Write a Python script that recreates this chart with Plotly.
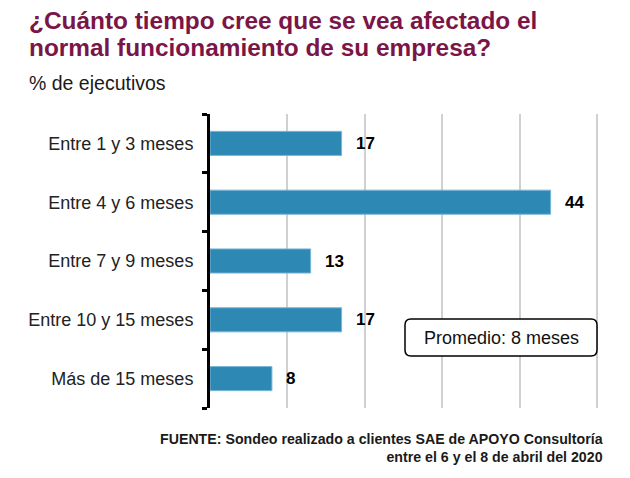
import plotly.graph_objects as go

categorias = ["Entre 1 y 3 meses", "Entre 4 y 6 meses", "Entre 7 y 9 meses",
              "Entre 10 y 15 meses", "Más de 15 meses"]
porcentajes = [17, 44, 13, 17, 8]
x_ticks = [0, 10, 20, 30, 40, 50]

titulo = ["¿Cuánto tiempo cree que se vea afectado el",
          "normal funcionamiento de su empresa?"]
subtitulo = "% de ejecutivos"
promedio = "Promedio: 8 meses"
fuente = ("FUENTE: Sondeo realizado a clientes SAE de APOYO Consultoría<br>"
          "entre el 6 y el 8 de abril del 2020")

FONT = "Liberation Sans, Arial, sans-serif"
W, H = 630, 478
M = dict(l=210, r=31, t=114, b=70)
pw = W - M["l"] - M["r"]
ph = H - M["t"] - M["b"]


def px(x):
    # page pixel -> paper x
    return (x - M["l"]) / pw


def py(y):
    # page pixel -> paper y
    return 1 - (y - M["t"]) / ph


fig = go.Figure(go.Bar(
    x=porcentajes,
    y=categorias,
    orientation="h",
    marker=dict(color="#2E88B4", line=dict(color="#7ab6d6", width=1)),
    width=0.41,
    hoverinfo="skip",
))

# value labels next to each bar
for cat, val in zip(categorias, porcentajes):
    fig.add_annotation(x=val, y=cat, text=f"<b>{val}</b>", showarrow=False,
                       xanchor="left", xshift=12,
                       font=dict(size=17, color="black", family=FONT))

# rounded callout box
x0, x1, y0, y1, r = 405, 597, 319, 356, 6
path = (f"M {px(x0 + r)} {py(y0)} L {px(x1 - r)} {py(y0)} "
        f"Q {px(x1)} {py(y0)} {px(x1)} {py(y0 + r)} L {px(x1)} {py(y1 - r)} "
        f"Q {px(x1)} {py(y1)} {px(x1 - r)} {py(y1)} L {px(x0 + r)} {py(y1)} "
        f"Q {px(x0)} {py(y1)} {px(x0)} {py(y1 - r)} L {px(x0)} {py(y0 + r)} "
        f"Q {px(x0)} {py(y0)} {px(x0 + r)} {py(y0)} Z")
fig.add_shape(type="path", path=path, xref="paper", yref="paper",
              line=dict(color="black", width=1.5), fillcolor="white")
fig.add_annotation(x=px((x0 + x1) / 2), y=py((y0 + y1) / 2), xref="paper", yref="paper",
                   text=promedio, showarrow=False, xanchor="center", yanchor="middle",
                   font=dict(size=18, color="#111111", family=FONT))

# title lines, subtitle, source
for line, top in zip(titulo, [5, 31.5]):
    fig.add_annotation(x=px(27), y=py(top), xref="paper", yref="paper",
                       text=f"<b>{line}</b>", showarrow=False, xanchor="left", yanchor="top",
                       font=dict(size=24.4, color="#7B1547", family=FONT))
fig.add_annotation(x=px(27), y=py(70.5), xref="paper", yref="paper",
                   text=subtitulo, showarrow=False, xanchor="left", yanchor="top",
                   font=dict(size=19.5, color="#1a1a1a", family=FONT))
fig.add_annotation(x=px(605), y=py(429), xref="paper", yref="paper",
                   text=f"<b>{fuente}</b>", showarrow=False, xanchor="right", yanchor="top",
                   align="right", font=dict(size=14.2, color="#1a1a1a", family=FONT))

fig.update_layout(
    width=W, height=H,
    margin=M,
    plot_bgcolor="white",
    paper_bgcolor="white",
    showlegend=False,
    font=dict(family=FONT, color="black"),
    xaxis=dict(range=[0, 50.25], tickvals=x_ticks, showticklabels=False,
               showgrid=True, gridcolor="#d0d0d0", gridwidth=1.5,
               zeroline=False, showline=False, fixedrange=True),
    yaxis=dict(categoryorder="array", categoryarray=categorias[::-1],
               showline=True, linecolor="black", linewidth=3,
               ticks="outside", tickson="boundaries", ticklen=5, tickwidth=3,
               tickcolor="black", ticklabelstandoff=10,
               tickfont=dict(size=18, color="#222222", family=FONT),
               showgrid=False, fixedrange=True),
)

fig.write_html("out.html", config={"displayModeBar": False},
               post_script="document.body.style.margin='0';")
